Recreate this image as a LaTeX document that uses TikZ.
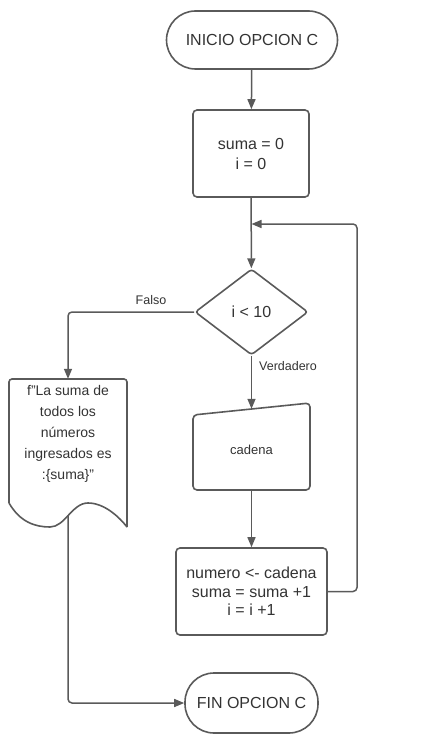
\documentclass[tikz,border=0pt]{standalone}
\usepackage{fontspec}
\setmainfont{Liberation Sans}
\usepackage{xcolor}
\usepackage{tikz}
\usetikzlibrary{shapes.geometric,arrows.meta}
\definecolor{fcline}{RGB}{90, 90, 90}
\definecolor{fctext}{RGB}{51, 51, 51}

\begin{document}
\begin{tikzpicture}[x=1pt, y=-1pt,
    >={Triangle[length=10pt,width=8pt]},
    every node/.style={text=fctext, inner sep=0pt},
    terminal/.style={draw=fcline, line width=1.6pt, rounded corners=29pt, font=\fontsize{16}{19}\selectfont},
    proceso/.style={draw=fcline, line width=1.6pt, rounded corners=4pt, align=center},
    flecha/.style={draw=fcline, line width=1.5pt, rounded corners=4pt},
    etiqueta/.style={font=\fontsize{12.5}{15}\selectfont}]
\useasboundingbox (0,0) rectangle (447,738);

% Inicio
\node[terminal, minimum width=171pt, minimum height=58pt] (inicio) at (252,40) {INICIO OPCION C};

% Inicializar
\node[proceso, minimum width=116pt, minimum height=87pt, font=\fontsize{16}{20}\selectfont] (init) at (251,153.5) {suma = 0\\i = 0};

% Condicion
\node[draw=fcline, line width=1.6pt, shape=diamond, rounded corners=3pt, minimum width=113pt, minimum height=86pt,
      font=\fontsize{16}{19}\selectfont] (cond) at (251.5,312) {i < 10};
\coordinate (union) at (251.5,224);

% Entrada manual
\node[minimum width=117pt, minimum height=81pt, font=\fontsize{13}{16}\selectfont] (cadena) at (251.5,449.5) {cadena};
\draw[fcline, line width=1.6pt, rounded corners=4pt] (193,415) -- (310,403) -- (310,490) -- (193,490) -- cycle;

% Proceso
\node[proceso, minimum width=151pt, minimum height=87pt, font=\fontsize{16}{18.5}\selectfont] (proc) at (251.5,591.5)
    {numero <- cadena\\suma = suma +1\\i = i +1};

% Salida (documento)
\node[minimum width=118pt, minimum height=110pt, align=center, font=\fontsize{14}{21}\selectfont] (salida) at (68,434)
    {f"La suma de\\todos los\\números\\ingresados es\\:\{suma\}"};
\draw[fcline, line width=1.6pt, rounded corners=3pt] (9,503) -- (9,379) -- (127,379) -- (127,527);
\draw[fcline, line width=1.6pt] (9,503) .. controls (20,522) and (35,527) .. (50,527)
    .. controls (65,527) and (72,503) .. (88,503) .. controls (105,503) and (120,518) .. (127,527);
\coordinate (docfin) at (68,515);

% Fin
\node[terminal, minimum width=133pt, minimum height=60pt] (fin) at (251.5,703) {FIN OPCION C};

% Conectores
\draw[flecha, ->] (inicio) -- (init);
\draw[flecha, ->] (init) -- (cond);
\draw[flecha, ->] (cond.west) -| (salida.north);
\node[etiqueta] (falso) at (151,300) {Falso};
\draw[flecha, ->] (cond) -- (cadena.north);
\node[etiqueta] (verdadero) at (288,366) {Verdadero};
\draw[flecha, ->] (cadena.south) -- (proc);
\draw[flecha, ->] (proc.east) -- (357,591.5) |- (union);
\draw[flecha, ->] (docfin) |- (fin.west);
\end{tikzpicture}
\end{document}
